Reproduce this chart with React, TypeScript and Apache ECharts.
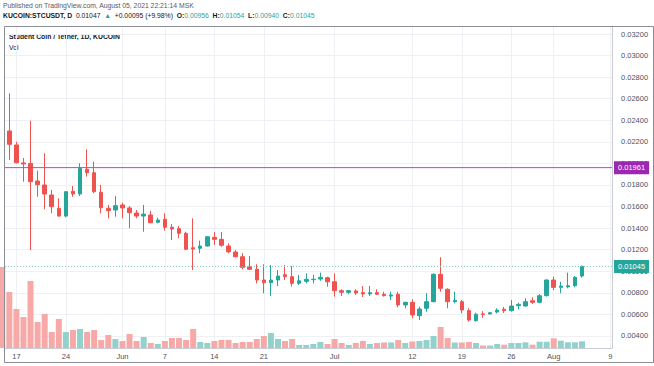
import React, { useEffect, useRef } from 'react';
import * as echarts from 'echarts';

// ---- data ----
const dates = [
  '05-15','05-16','05-17','05-18','05-19','05-20','05-21','05-22','05-23','05-24',
  '05-25','05-26','05-27','05-28','05-29','05-30','05-31','06-01','06-02','06-03',
  '06-04','06-05','06-06','06-07','06-08','06-09','06-10','06-11','06-12','06-13',
  '06-14','06-15','06-16','06-17','06-18','06-19','06-20','06-21','06-22','06-23',
  '06-24','06-25','06-26','06-27','06-28','06-29','06-30','07-01','07-02','07-03',
  '07-04','07-05','07-06','07-07','07-08','07-09','07-10','07-11','07-12','07-13',
  '07-14','07-15','07-16','07-17','07-18','07-19','07-20','07-21','07-22','07-23',
  '07-24','07-25','07-26','07-27','07-28','07-29','07-30','07-31','08-01','08-02',
  '08-03','08-04','08-05',
];
const open = [
  0.0300,0.02301,0.02171,0.02005,0.0200,0.01837,0.01800,0.01707,0.01584,0.01512,
  0.01742,0.01717,0.01946,0.01914,0.01732,0.01584,0.01568,0.01615,0.01587,0.0154,
  0.01512,0.01522,0.01454,0.01482,0.01408,0.01395,0.01352,0.01218,0.01213,0.01234,
  0.01315,0.01296,0.01234,0.01178,0.01135,0.01042,0.01018,0.00919,0.00894,0.00919,
  0.00968,0.0095,0.00888,0.00907,0.00922,0.00928,0.0094,0.00903,0.0082,0.00805,
  0.00818,0.00802,0.0079,0.00802,0.00787,0.0077,0.00787,0.00688,0.00712,0.00588,
  0.00657,0.00718,0.00972,0.00833,0.00718,0.00718,0.00635,0.00542,0.00605,0.00604,
  0.00622,0.00648,0.00635,0.00681,0.00678,0.00727,0.00712,0.00774,0.00919,0.00851,
  0.00855,0.00866,0.00956,
];
const close = [
  0.0231,0.02177,0.02007,0.01995,0.01831,0.01803,0.01716,0.01599,0.01512,0.01738,
  0.01717,0.01955,0.01914,0.01738,0.0159,0.01562,0.01608,0.01587,0.01543,0.01512,
  0.0153,0.0145,0.01475,0.01408,0.01392,0.01352,0.01204,0.01206,0.01234,0.0132,
  0.01296,0.01241,0.01181,0.01135,0.01037,0.01018,0.00919,0.00894,0.00919,0.00956,
  0.0095,0.00888,0.00912,0.00925,0.00926,0.00944,0.00903,0.0082,0.00805,0.0082,
  0.00799,0.0079,0.00802,0.00787,0.00774,0.0078,0.00688,0.00712,0.00595,0.0065,
  0.00718,0.00972,0.00842,0.00718,0.00731,0.00641,0.00548,0.00601,0.00598,0.00616,
  0.0064,0.00635,0.00678,0.00693,0.00718,0.00712,0.00773,0.00919,0.00851,0.00863,
  0.00866,0.00944,0.01045,
];
const low = [
  0.0229,0.02032,0.02001,0.0183,0.01197,0.01691,0.01575,0.01538,0.01506,0.0150,
  0.01691,0.01698,0.01877,0.01723,0.01538,0.01491,0.01506,0.01491,0.01398,0.01491,
  0.01367,0.01445,0.01445,0.01377,0.0129,0.01306,0.01197,0.01012,0.01167,0.0123,
  0.01244,0.01228,0.01167,0.01129,0.01018,0.01012,0.00888,0.00796,0.00771,0.00863,
  0.00919,0.00857,0.00873,0.00888,0.00888,0.00912,0.00857,0.00765,0.00771,0.00787,
  0.0078,0.00762,0.00771,0.0078,0.00765,0.00734,0.00666,0.00657,0.00564,0.00548,
  0.00625,0.00712,0.0081,0.00657,0.00703,0.0061,0.00533,0.00533,0.00568,0.006,
  0.0061,0.00613,0.00626,0.00647,0.00672,0.00697,0.00703,0.00765,0.00826,0.00796,
  0.00842,0.00851,0.0094,
];
const high = [
  0.0302,0.0265,0.02201,0.0205,0.02396,0.01933,0.02094,0.01754,0.01677,0.0174,
  0.01791,0.02001,0.02131,0.02016,0.018,0.01615,0.01698,0.01636,0.01605,0.01568,
  0.01615,0.0156,0.01497,0.01538,0.01438,0.0142,0.01367,0.01491,0.01284,0.01323,
  0.01364,0.01364,0.01259,0.01197,0.01167,0.01142,0.01065,0.01065,0.01058,0.01012,
  0.01058,0.01049,0.00966,0.00981,0.00966,0.00987,0.0095,0.00981,0.00833,0.00827,
  0.00833,0.00864,0.00864,0.00833,0.00811,0.00811,0.00811,0.00718,0.0074,0.00672,
  0.00796,0.00981,0.0113,0.00842,0.00811,0.00734,0.00657,0.00616,0.0063,0.00622,
  0.00657,0.0067,0.00734,0.00709,0.0075,0.00759,0.00789,0.00925,0.0095,0.00903,
  0.00987,0.00956,0.01054,
];
const volume = [
  81,56,39,31,67,26,34,16,29,16,
  18,19,16,18,8,13,9,7,14,7,
  11,5,4,7,10,10,8,19,6,5,
  7,8,8,5,6,6,9,12,15,9,
  7,9,3,3,4,6,4,9,5,3,
  5,7,4,5,5.5,5.5,8,5,6.5,7,
  8,12,21,10,5.5,5.5,6,5,2.5,2.5,
  4,3.3,5,5,5.7,3.3,6.3,6.3,9.7,7.3,
  5.7,5.7,6.7,
];
const priceTicks = [0.004,0.006,0.008,0.010,0.012,0.014,0.016,0.018,0.020,0.022,0.024,0.026,0.028,0.030,0.032];
const timeTickDates = ['05-17','05-24','06-01','06-07','06-14','06-21','07-01','07-12','07-19','07-26','08-01','08-09'];
const timeTickLabels = ['17','24','Jun','7','14','21','Jul','12','19','26','Aug','9'];
const levelPrice = 0.01961;

const X_MIN = -1.612;
const X_MAX = 84.24;
const UP = '#26a69a';
const DOWN = '#ef5350';
const UP_VOL = '#92d2cc';
const DOWN_VOL = '#f7a9a7';
const FONT = '"Liberation Sans", Arial, sans-serif';
const HF = 6.8;

const BASE = Date.UTC(2021, 4, 17);
const dayOf = (md: string) => {
  const [m, d] = md.split('-').map(Number);
  return Math.round((Date.UTC(2021, m - 1, d) - BASE) / 86400000);
};

export default function App() {
  const ref = useRef<HTMLDivElement>(null);
  useEffect(() => {
    if (!ref.current) return;
    const chart = echarts.init(ref.current, undefined, { renderer: 'svg' });
    const xs = dates.map(dayOf);
    const tickX = timeTickDates.map(dayOf);
    const last = dates.length - 1;
    const candles = xs.map((x, i) => [x, open[i], close[i], low[i], high[i]]);
    const vols = xs.map((x, i) => ({
      value: [x, volume[i]],
      itemStyle: { color: close[i] >= open[i] ? UP_VOL : DOWN_VOL },
    }));
    const f5 = (v: number) => v.toFixed(5);

    const levelSeries = (value: number, lineColor: string, dash: any, boxColor: string) => ({
      type: 'line',
      data: [[X_MIN, value], [X_MAX, value]],
      symbol: 'none',
      silent: true,
      clip: false,
      z: 4,
      lineStyle: { color: lineColor, width: 1, type: dash },
      itemStyle: { color: lineColor },
      endLabel: {
        show: true,
        distance: 2,
        formatter: () => f5(value),
        backgroundColor: boxColor,
        color: '#ffffff',
        fontSize: 7.5,
        fontFamily: FONT,
        padding: [3, 4, 2, 4],
      },
    });

    chart.setOption({
      animation: false,
      backgroundColor: '#ffffff',
      textStyle: { fontFamily: FONT },
      grid: { left: 5, right: 42, top: 26, bottom: 18 },
      xAxis: {
        type: 'value',
        min: X_MIN,
        max: X_MAX,
        axisLine: { show: true, onZero: false, lineStyle: { color: '#c8cbd2' } },
        axisTick: { show: false, customValues: tickX },
        axisLabel: {
          customValues: tickX,
          fontSize: 7.5,
          color: '#4c525e',
          margin: 4,
          formatter: (v: number) => {
            const k = tickX.findIndex((t) => Math.abs(t - v) < 1e-6);
            return k >= 0 ? timeTickLabels[k] : '';
          },
        },
        splitLine: { show: true, lineStyle: { color: '#eef0f3', width: 1 } },
      },
      yAxis: [
        {
          type: 'value',
          position: 'right',
          min: 0.002886,
          max: 0.032742,
          axisLine: { show: true, onZero: false, lineStyle: { color: '#c8cbd2' } },
          axisTick: { show: false, customValues: priceTicks },
          axisLabel: {
            customValues: priceTicks,
            fontSize: 7.5,
            color: '#4c525e',
            margin: 9,
            formatter: f5,
          },
          splitLine: { show: true, lineStyle: { color: '#eef0f3', width: 1 } },
        },
        { type: 'value', min: 0, max: 322, show: false },
      ],
      series: [
        {
          type: 'bar',
          yAxisIndex: 1,
          data: vols,
          barWidth: 6,
          silent: true,
          z: 1,
        },
        levelSeries(levelPrice, '#a94fc2', 'solid', '#9c27b0'),
        levelSeries(close[last], '#7fcbc3', [1, 2], '#26a69a'),
        {
          type: 'candlestick',
          data: candles,
          encode: { x: 0, y: [1, 2, 3, 4] },
          barWidth: 4,
          silent: true,
          z: 3,
          itemStyle: {
            color: UP,
            color0: DOWN,
            borderColor: UP,
            borderColor0: DOWN,
            borderWidth: 1,
          },
        },
      ],
      graphic: [
        {
          type: 'rect',
          shape: { x: 4.5, y: 26.5, width: 649, height: 336 },
          style: { fill: 'none', stroke: '#8a8d94', lineWidth: 1 },
          silent: true,
          z: 10,
        },
        {
          type: 'text',
          left: 3,
          top: 2,
          style: {
            text: 'Published on TradingView.com, August 05, 2021 22:21:14 MSK',
            fontSize: HF,
            fontFamily: FONT,
            fill: '#555a66',
          },
        },
        {
          type: 'text',
          left: 3,
          top: 12,
          style: {
            text:
              '{b|KUCOIN:STCUSDT, D}  {n|0.01047}  {g|▲}  {n|+0.00095 (+9.98%)}  ' +
              `{b|O:}{g|${f5(open[last])}}  {b|H:}{g|${f5(high[last])}}  {b|L:}{g|${f5(low[last])}}  {b|C:}{g|${f5(close[last])}}`,
            fontSize: HF,
            fontFamily: FONT,
            rich: {
              b: { fontWeight: 'bold', fill: '#131722', fontSize: HF, fontFamily: FONT },
              n: { fill: '#131722', fontSize: HF, fontFamily: FONT },
              g: { fill: UP, fontSize: HF, fontFamily: FONT },
            },
          },
        },
        {
          type: 'text',
          left: 9,
          top: 33,
          style: {
            text: 'Student Coin / Tether, 1D, KUCOIN',
            fontSize: 6.8,
            fontWeight: 'bold',
            fontFamily: FONT,
            fill: '#131722',
          },
        },
        {
          type: 'text',
          left: 9,
          top: 44,
          style: { text: 'Vol', fontSize: 6.8, fontFamily: FONT, fill: '#131722' },
        },
      ],
    });
    return () => chart.dispose();
  }, []);
  return (
    <div
      ref={ref}
      style={{ position: 'fixed', left: 0, top: 0, width: 654, height: 366, background: '#fff' }}
    />
  );
}
